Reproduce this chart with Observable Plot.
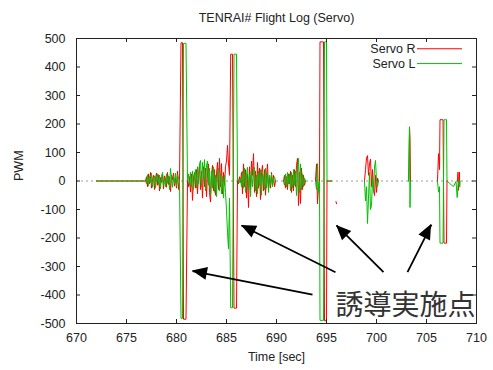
<!DOCTYPE html>
<html><head><meta charset="utf-8">
<script src="https://cdn.jsdelivr.net/npm/d3@7"></script>
<script src="https://cdn.jsdelivr.net/npm/@observablehq/plot@0.6"></script>
<style>body{margin:0;background:#fff} svg{display:block}</style>
</head><body><div id="chart"></div>
<script>
// ---------- text ----------
const chartTitle = "TENRAI# Flight Log (Servo)";
const xLabel = "Time [sec]";
const yLabel = "PWM";
const annotationText = "誘導実施点";
const seriesNames = ["Servo R", "Servo L"];
const seriesColors = ["#ff0000", "#00c000"];

// ---------- ticks ----------
const xTicks = [670, 675, 680, 685, 690, 695, 700, 705, 710];
const yTicks = [-500, -400, -300, -200, -100, 0, 100, 200, 300, 400, 500];

// ---------- servo samples, sample step 0.1 s ----------
const sampleStep = 0.1;
const flatTimes = [672.0, 676.8];
const flatVals = [0, 0];

const segBStart = 676.9;
const segB_R = [0, 15, -20, 25, -10, 30, -25, 5, 20, -30, 10, 28, -15, 22, -35, 12, -5, 25, -28, 18, 8, -22, 30, -12, 15, -37, 20, 5, 28, -18, 10, -25, 35, -30, 0];
const segB_L = [0, -10, 22, -18, 15, -5, 28, -22, 10, 18, -25, 5, 25, -12, 20, -28, 15, 30, -15, 8, -20, 25, -8, 18, -30, 44, 10, -22, 15, -10, 28, -18, 22, 10, 0];

const segCStart = 681.1;
const segC_R = [0, -20, 15, -39, 25, -68, 10, 30, -25, 40, -45, 20, 55, -30, 35, -60, 50, -20, 45, -55, 30, 60, -40, -74, 20, 55, -35, 40, -50, 25, 65, -30, 79, -20, 61, -45, 30, -15, 50, 70, 125, 60, 20];
const segC_L = [0, 25, -15, 30, -20, 35, -30, 15, 40, -25, 50, -10, 60, 72, -20, 65, 10, 75, -35, 55, 70, -15, 45, -50, 35, -25, 50, -40, 20, -55, 30, 45, -35, 25, -45, 15, -60, 20, -40, -104, -180, -238, -60];

const segDStart = 686.1;
const segD_R = [5, -10, 15, -5, 30, -45, 60, -20, 40, -60, 25, -93, 50, -30, 70, 20, 96, -40, 35, -55, 65, -25, 45, -65, 30, 55, -35, 40, -50, 20, 60, -30, 15, -25, 30, -15, 20, -20, 0];
const segD_L = [0, 5, -5, 8, -20, 35, -25, 45, -40, 20, 48, -30, 25, -55, 40, -20, 30, 48, -35, 20, -45, 35, -15, 40, -50, 25, 10, -30, 45, -25, 30, -40, 20, -15, 25, -20, 10, 15, 0];

const segEStart = 690.7;
const segE_R = [0, 20, -25, 15, -30, 25, -10, 35, -40, 20, -35, 40, -20, 55, 79, -86, 30, -79, 45, -30, 20, -15, 0];
const segE_L = [0, -15, 25, -20, 30, -10, 25, -35, 30, -25, 40, -15, 35, -51, 40, 79, -40, 60, -30, 25, -20, 10, 0];

const segFStart = 693.9;
const segF_R = [0, 60, -80, -20, 0];
const segF_L = [0, -30, 61, -40, 0];

const flat2Times = [695.05, 695.5];
const flat2Vals = [0, 0];

const dotRTimes = [695.95, 696.0];
const dotRVals = [-72, -80];

const segGStart = 698.8;
const segG_R = [0, 40, 80, 89, 20, 60, 77, -20, 40, -30, -51, 20, -40, 10, 0];
const segG_L = [0, -70, -20, -149, -60, 30, -100, -86, 10, -40, 50, 72, 0, -20, 0];

const spike4RTimes = [703.2, 703.25, 703.3, 703.35, 703.4];
const spike4RVals = [0, 48, 190, 150, 0];
const spike4LTimes = [703.2, 703.3, 703.35, 703.4];
const spike4LVals = [0, 190, -93, 0];

const segHStart = 706.1;
const segH_R = [0, 96, 40];
const segH_L = [0, -39, -20];

const tailR1Times = [707.05];
const tailR1Vals = [0];
const tailR2Times = [708.1, 708.15, 708.2, 708.3, 708.33];
const tailR2Vals = [0, 31, -33, 31, -20];
const tailLTimes = [707.05, 707.3, 707.5, 707.7, 707.95, 708.07, 708.2, 708.3, 708.35];
const tailLVals = [0, -8, -14, -19, -2, -58, 7, -20, 0];

// full-deflection sweeps (guidance points): times [rise, hold end, switch, end]
const spikeTimes = [[680.45, 680.6, 680.7, 680.95], [685.42, 685.6, 685.75, 686.0], [694.35, 694.7, 694.8, 695.0], [706.35, 706.65, 706.75, 707.0]];
const spikeR = [[485, -485], [445, -446], [488, -490], [215, -218]];
const spikeL = [[-482, 483], [-445, 445], [-489, 488], [-218, 215]];

// ---------- legend & annotation (data coordinates) ----------
const legendY = [464, 412];
const legendTextX = 703.9;
const legendLineX = [704.1, 708.6];
const annotationX = 709.9;
const annotationY = -437;
const arrowTail = [[693.6, -399], [695.9, -320], [700.7, -320], [703.1, -320]];
const arrowTip = [[681.6, -316], [686.5, -156], [696.0, -156], [705.5, -153]];

// ---------- build rows ----------
const gap = {t: NaN, v: NaN};
const seg = (start, vals) => vals.map((v, i) => ({t: +(start + i * sampleStep).toFixed(2), v}));
const pts = (times, vals) => times.map((t, i) => ({t, v: vals[i]}));
const spk = (k, s) => pts(spikeTimes[k], [s[k][0], s[k][0], s[k][1], s[k][1]]);

const rowsR = [
  ...pts(flatTimes, flatVals), ...seg(segBStart, segB_R), ...spk(0, spikeR), ...seg(segCStart, segC_R),
  ...spk(1, spikeR), ...seg(segDStart, segD_R), gap,
  ...seg(segEStart, segE_R), gap,
  ...seg(segFStart, segF_R), ...spk(2, spikeR), ...pts(flat2Times, flat2Vals), gap,
  ...pts(dotRTimes, dotRVals), gap,
  ...seg(segGStart, segG_R), gap,
  ...pts(spike4RTimes, spike4RVals), gap,
  ...seg(segHStart, segH_R), ...spk(3, spikeR), ...pts(tailR1Times, tailR1Vals), gap,
  ...pts(tailR2Times, tailR2Vals)
];
const rowsL = [
  ...pts(flatTimes, flatVals), ...seg(segBStart, segB_L), ...spk(0, spikeL), ...seg(segCStart, segC_L),
  ...spk(1, spikeL), ...seg(segDStart, segD_L), gap,
  ...seg(segEStart, segE_L), gap,
  ...seg(segFStart, segF_L), ...spk(2, spikeL), ...pts(flat2Times, flat2Vals), gap,
  ...seg(segGStart, segG_L), gap,
  ...pts(spike4LTimes, spike4LVals), gap,
  ...seg(segHStart, segH_L), ...spk(3, spikeL), ...pts(tailLTimes, tailLVals)
];

const legendRows = seriesNames.map((name, i) => ({name, color: seriesColors[i], y: legendY[i]}));
const arrows = arrowTail.map((a, i) => ({x1: a[0], y1: a[1], x2: arrowTip[i][0], y2: arrowTip[i][1]}));

const frameW = 493 - 76 - 17, frameH = 370 - 38 - 47, tickLen = 4;
const ink = "#222";

const arrowHeads = (index, scales) => {
  const g = d3.create("svg:g").attr("fill", "#000");
  for (const a of arrows) {
    const tx = scales.x(a.x1), ty = scales.y(a.y1), px = scales.x(a.x2), py = scales.y(a.y2);
    const len = Math.hypot(px - tx, py - ty), ux = (px - tx) / len, uy = (py - ty) / len;
    const L = 15, W = 6.5, bx = px - ux * L, by = py - uy * L;
    g.append("path").attr("d", `M${px},${py}L${bx - uy * W},${by + ux * W}L${bx + uy * W},${by - ux * W}Z`);
  }
  return g.node();
};

const chart = Plot.plot({
  width: 493, height: 370,
  marginTop: 38, marginRight: 17, marginBottom: 47, marginLeft: 76,
  style: {fontFamily: "'Liberation Sans', Arial, sans-serif", fontSize: "12.5px", color: ink, background: "#fff"},
  x: {domain: [670, 710]},
  y: {domain: [-500, 500]},
  marks: [
    Plot.ruleY([0], {stroke: "#999", strokeDasharray: "2,3"}),
    Plot.line(rowsR, {x: "t", y: "v", stroke: seriesColors[0], strokeWidth: 1}),
    Plot.line(rowsL, {x: "t", y: "v", stroke: seriesColors[1], strokeWidth: 1}),
    Plot.frame({stroke: ink}),
    Plot.tickX(xTicks, {x: d => d, insetTop: frameH - tickLen, stroke: ink}),
    Plot.tickX(xTicks, {x: d => d, insetBottom: frameH - tickLen, stroke: ink}),
    Plot.tickY(yTicks, {y: d => d, insetRight: frameW - tickLen, stroke: ink}),
    Plot.tickY(yTicks, {y: d => d, insetLeft: frameW - tickLen, stroke: ink}),
    Plot.axisX(xTicks, {tickSize: 0, tickPadding: 10, label: null, tickFormat: d => String(d)}),
    Plot.axisY(yTicks, {tickSize: 0, tickPadding: 11, label: null, tickFormat: d => String(d)}),
    Plot.text([chartTitle], {frameAnchor: "top", dy: -25, text: d => d}),
    Plot.text([xLabel], {frameAnchor: "bottom", dy: 37, text: d => d}),
    Plot.text([yLabel], {frameAnchor: "left", dx: -58, rotate: -90, text: d => d}),
    Plot.ruleY(legendRows, {y: "y", x1: legendLineX[0], x2: legendLineX[1], stroke: "color", strokeWidth: 1}),
    Plot.text(legendRows, {x: legendTextX, y: "y", text: "name", textAnchor: "end"}),
    Plot.link(arrows, {x1: "x1", y1: "y1", x2: "x2", y2: "y2", stroke: "#000", strokeWidth: 1.8}),
    arrowHeads,
    Plot.text([annotationText], {x: annotationX, y: annotationY, text: d => d, textAnchor: "end", fontSize: 28,
      fontFamily: "'Noto Sans CJK JP', sans-serif", fill: "#333"})
  ]
});
document.getElementById("chart").append(chart);
</script></body></html>
